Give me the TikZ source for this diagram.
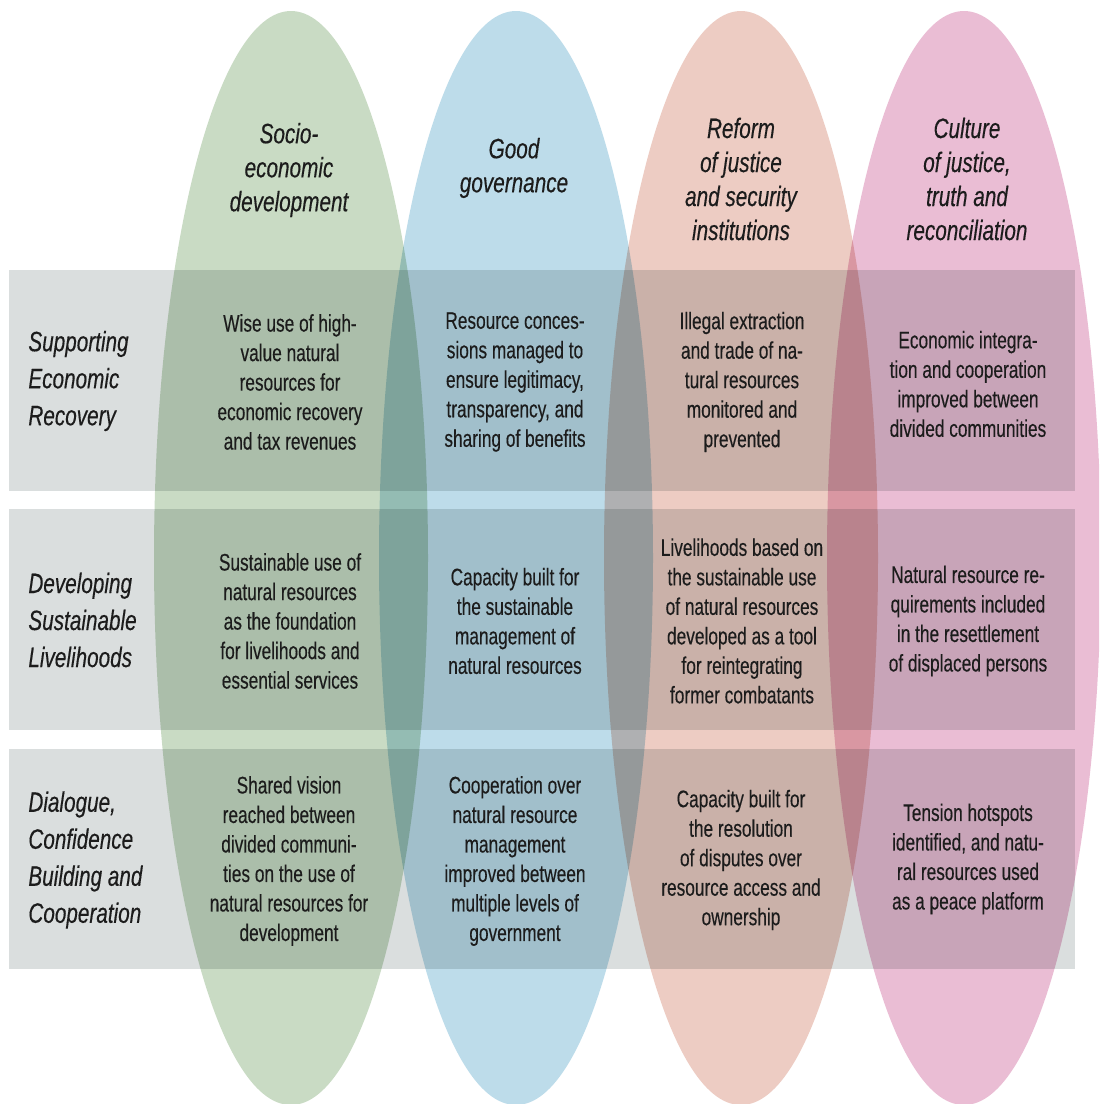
\documentclass[tikz,border=0pt]{standalone}
\usepackage{fontspec}
\setmainfont{Liberation Sans}
\newfontfamily\hfont{Liberation Sans}[FakeStretch=0.74,FakeBold=0.3]
\newfontfamily\bfont{Liberation Sans}[FakeStretch=0.72,FakeBold=0.3]
\definecolor{egreen}{HTML}{C9DBC4}
\definecolor{eblue}{HTML}{BDDCEA}
\definecolor{ered}{HTML}{EDCCC3}
\definecolor{epink}{HTML}{EABDD4}
\definecolor{bandgray}{HTML}{DADEDE}
\definecolor{txt}{HTML}{1C1C1C}
\tikzset{
  ell/.style={blend mode=multiply},
  band/.style={fill=bandgray, blend mode=multiply},
  hdr/.style={align=center, text=txt, inner sep=0pt, font={\hfont\itshape\fontsize{14}{17}\selectfont}},
  lbl/.style={align=left, anchor=west, text=txt, inner sep=0pt, font={\hfont\itshape\fontsize{14}{18.5}\selectfont}},
  cell/.style={align=center, text=txt, inner sep=0pt, font={\bfont\fontsize{12}{14.75}\selectfont}}
}
\begin{document}
\begin{tikzpicture}[x=0.5pt,y=-0.5pt]
\useasboundingbox (0,0) rectangle (1099,1104);
\clip (0,0) rectangle (1099,1104);
\fill[white] (0,0) rectangle (1099,1104);
% ellipses
\fill[ell, egreen] (291,558) ellipse [x radius=68.5pt, y radius=273.5pt];
\fill[ell, eblue]  (516,558) ellipse [x radius=68.5pt, y radius=273.5pt];
\fill[ell, ered]   (741,558) ellipse [x radius=68.5pt, y radius=273.5pt];
\fill[ell, epink]  (964,558) ellipse [x radius=68.5pt, y radius=273.5pt];
% bands
\fill[band] (9,270) rectangle (1075,491);
\fill[band] (9,509) rectangle (1075,730);
\fill[band] (9,749) rectangle (1075,969);
% headers
\node[hdr] (h1) at (289,170) {Socio-\\economic\\development};
\node[hdr] (h2) at (514,168) {Good\\governance};
\node[hdr] (h3) at (741,179) {Reform\\of justice\\and security\\institutions};
\node[hdr] (h4) at (967,179) {Culture\\of justice,\\truth and\\reconciliation};
% row labels
\node[lbl] (r1) at (28,381) {Supporting\\Economic\\Recovery};
\node[lbl] (r2) at (28,620) {Developing\\Sustainable\\Livelihoods};
\node[lbl] (r3) at (28,860) {Dialogue,\\Confidence\\Building and\\Cooperation};
% row 1
\node[cell] (c11) at (290,382) {Wise use of high-\\value natural\\resources for\\economic recovery\\and tax revenues};
\node[cell] (c12) at (515,382) {Resource conces-\\sions managed to\\ensure legitimacy,\\transparency, and\\sharing of benefits};
\node[cell] (c13) at (742,382) {Illegal extraction\\and trade of na-\\tural resources\\monitored and\\prevented};
\node[cell] (c14) at (968,384) {Economic integra-\\tion and cooperation\\improved between\\divided communities};
% row 2
\node[cell] (c21) at (290,621) {Sustainable use of\\natural resources\\as the foundation\\for livelihoods and\\essential services};
\node[cell] (c22) at (515,621) {Capacity built for\\the sustainable\\management of\\natural resources};
\node[cell] (c23) at (742,621) {Livelihoods based on\\the sustainable use\\of natural resources\\developed as a tool\\for reintegrating\\former combatants};
\node[cell] (c24) at (968,621) {Natural resource re-\\quirements included\\in the resettlement\\of displaced persons};
% row 3
\node[cell] (c31) at (289,861) {Shared vision\\reached between\\divided communi-\\ties on the use of\\natural resources for\\development};
\node[cell] (c32) at (515,861) {Cooperation over\\natural resource\\management\\improved between\\multiple levels of\\government};
\node[cell] (c33) at (741,860) {Capacity built for\\the resolution\\of disputes over\\resource access and\\ownership};
\node[cell] (c34) at (968,859) {Tension hotspots\\identified, and natu-\\ral resources used\\as a peace platform};
\end{tikzpicture}
\end{document}
